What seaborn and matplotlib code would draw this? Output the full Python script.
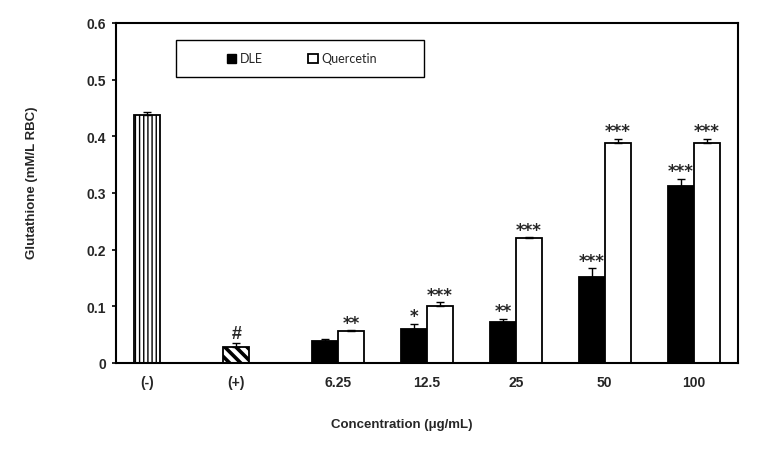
import numpy as np
import pandas as pd
import matplotlib
matplotlib.use("Agg")
import matplotlib.pyplot as plt
import seaborn as sns
from matplotlib.patches import Patch, Rectangle

# --- data ---
CATEGORIES = ["(-)", "(+)", "6.25", "12.5", "25", "50", "100"]
DLE_VALUES = [0.438, 0.029, 0.039, 0.060, 0.072, 0.151, 0.313]
DLE_ERRORS = [0.005, 0.006, 0.004, 0.009, 0.006, 0.016, 0.012]
DLE_MARKS = ["", "#", "", "*", "**", "***", "***"]
QUER_CATS = ["6.25", "12.5", "25", "50", "100"]
QUER_VALUES = [0.057, 0.101, 0.220, 0.389, 0.389]
QUER_ERRORS = [0.001, 0.006, 0.002, 0.007, 0.007]
QUER_MARKS = ["**", "***", "***", "***", "***"]

sns.set_theme(style="white")
plt.rcParams["font.family"] = ["Liberation Sans", "DejaVu Sans"]
plt.rcParams["hatch.linewidth"] = 1.0

df = pd.DataFrame({
    "conc": CATEGORIES + QUER_CATS,
    "value": DLE_VALUES + QUER_VALUES,
    "group": ["DLE"] * len(CATEGORIES) + ["Quercetin"] * len(QUER_CATS),
})

fig = plt.figure(figsize=(7.58, 4.56), dpi=100)
ax = fig.add_axes([0.153, 0.2018, 0.8206, 0.7456])

sns.barplot(data=df, x="conc", y="value", hue="group", order=CATEGORIES,
            hue_order=["DLE", "Quercetin"], palette=["black", "white"],
            width=0.585, edgecolor="black", linewidth=1.3, errorbar=None,
            legend=False, ax=ax)

dle_bars = list(ax.containers[0])
q_bars = list(ax.containers[1])

# controls: hatched white bars
for bar, h, hw in zip(dle_bars[:2], ["||||", "\\\\\\"], [1.0, 2.6]):
    bar.set_facecolor("white")
    bar.set_hatch(h)
    bar.set_edgecolor("black")
    if hasattr(bar, "set_hatch_linewidth"):
        bar.set_hatch_linewidth(hw)

def add_err(bars, vals, errs, marks):
    xs = [b.get_x() + b.get_width() / 2 for b in bars]
    ax.errorbar(xs, vals, yerr=[np.zeros(len(errs)), errs], fmt="none",
                ecolor="black", elinewidth=1.0, capsize=3, capthick=1.0)
    for x, v, e, m in zip(xs, vals, errs, marks):
        if m == "#":
            ax.annotate(m, (x, v + e), xytext=(0, 1), textcoords="offset points",
                        ha="center", va="bottom", fontsize=13, fontweight="bold")
        elif m:
            ax.annotate(m, (x, v + e), xytext=(0, -1), textcoords="offset points",
                        ha="center", va="bottom", fontsize=12, fontweight="bold",
                        family="DejaVu Sans")

add_err(dle_bars, DLE_VALUES, DLE_ERRORS, DLE_MARKS)
add_err(q_bars, QUER_VALUES, QUER_ERRORS, QUER_MARKS)

# axes / ticks
ax.set_xlim(-0.5, len(CATEGORIES) - 0.5)
ax.set_ylim(0, 0.6)
ax.set_yticks(np.arange(0, 0.61, 0.1))
ax.set_yticklabels(["0", "0.1", "0.2", "0.3", "0.4", "0.5", "0.6"])
label_pos = [b.get_x() + b.get_width() / 2 for b in dle_bars[:2]] + list(range(2, len(CATEGORIES)))
ax.set_xticks(label_pos)
ax.set_xticklabels(CATEGORIES)
ax.set_xticks(np.arange(-0.5, len(CATEGORIES)), minor=True)
ax.tick_params(axis="x", which="major", length=0, pad=9, labelsize=10)
ax.tick_params(axis="x", which="minor", length=4, width=1.2, direction="out", color="black")
ax.tick_params(axis="y", length=3, width=1.2, direction="out", color="black", labelsize=10, pad=4, left=True)
for lab in ax.get_xticklabels() + ax.get_yticklabels():
    lab.set_fontweight("bold")
for s in ax.spines.values():
    s.set_visible(True)
    s.set_color("black")
    s.set_linewidth(1.5)

ax.set_xlabel("Concentration (μg/mL)", fontsize=9.5, fontweight="bold")
ax.set_ylabel("Glutathione (mM/L RBC)", fontsize=9.5, fontweight="bold")
ax.xaxis.set_label_coords(0.459, -0.162)
ax.yaxis.set_label_coords(-0.125, 0.532)

# legend box
box = Rectangle((176 / 758, 1 - 78 / 456), (424 - 176) / 758, 37 / 456,
                transform=fig.transFigure, facecolor="white", edgecolor="black",
                linewidth=1.0, zorder=5)
fig.patches.append(box)
handles = [Patch(facecolor="black", edgecolor="black", label="DLE"),
           Patch(facecolor="white", edgecolor="black", linewidth=1.3, label="Quercetin")]
leg = fig.legend(handles=handles, loc="center", bbox_to_anchor=(302 / 758, 1 - 59.5 / 456),
                 ncol=2, frameon=False, handlelength=0.75, handleheight=0.75,
                 handletextpad=0.3, columnspacing=3.6,
                 prop={"family": "Lato", "size": 9})
leg.set_zorder(6)

plt.savefig("out.png", dpi=100)
plt.close()
